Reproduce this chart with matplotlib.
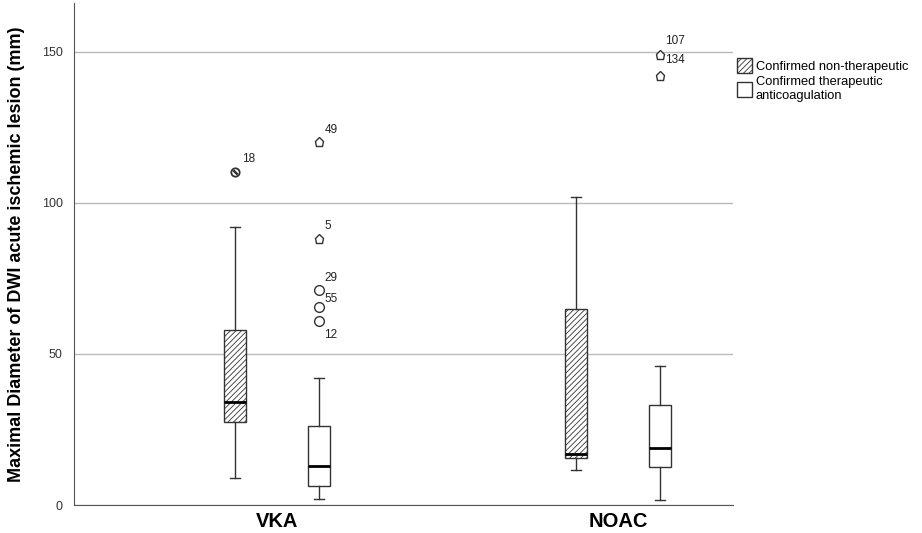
import matplotlib
matplotlib.use('Agg')
import matplotlib.pyplot as plt
from matplotlib.patches import Patch

plt.rcParams['font.family'] = ['Liberation Sans', 'DejaVu Sans']
plt.rcParams['hatch.linewidth'] = 0.6

# Values (mm)
groups = ['VKA', 'NOAC']
series = ['Confirmed non-therapeutic', 'Confirmed therapeutic\nanticoagulation']

# [VKA non-ther, VKA ther, NOAC non-ther, NOAC ther]
whislo = [9, 2, 11.5, 1.5]
q1 = [27.5, 6.3, 15.5, 12.5]
med = [34, 13, 16.8, 19]
q3 = [58, 26, 65, 33]
whishi = [92, 42, 102, 46]

# outliers: (box index, value, label, kind)  kind: 'o' outlier, 'p' extreme
outliers = [
    (0, 110, '18', 'h'),
    (1, 120, '49', 'p'),
    (1, 88, '5', 'p'),
    (1, 71, '29', 'o'),
    (1, 65.5, '55', 'o'),
    (1, 61, '12', 'o'),
    (3, 149, '107', 'p'),
    (3, 142, '134', 'p'),
]
label_offsets = {'18': (5, 10), '49': (4, 9), '5': (4, 9), '29': (4, 9),
                 '55': (4, 6), '12': (4, -10), '107': (4, 10), '134': (4, 11)}

group_pos = [1, 2]
offset = 0.123
positions = [group_pos[0] - offset, group_pos[0] + offset,
             group_pos[1] - offset, group_pos[1] + offset]

stats = []
for i in range(4):
    stats.append({'whislo': whislo[i], 'q1': q1[i], 'med': med[i],
                  'q3': q3[i], 'whishi': whishi[i], 'fliers': []})

fig = plt.figure(figsize=(9.22, 5.33), dpi=100)
ax = fig.add_axes([0.080, 0.0525, 0.715, 0.9415])

bp = ax.bxp(stats, positions=positions, widths=0.065, capwidths=0.03,
            showfliers=False, patch_artist=True,
            boxprops=dict(edgecolor='#333333', linewidth=1),
            whiskerprops=dict(color='#333333', linewidth=1),
            capprops=dict(color='#333333', linewidth=1),
            medianprops=dict(color='black', linewidth=2))
for i, box in enumerate(bp['boxes']):
    box.set_facecolor('white')
    if i % 2 == 0:
        box.set_hatch('//////')
    box.set_zorder(3)
for key in ['whiskers', 'caps', 'medians']:
    for ln in bp[key]:
        ln.set_zorder(3)

for idx, val, lab, kind in outliers:
    x = positions[idx]
    if kind == 'p':
        ax.plot(x, val, marker='p', ms=6.5, mfc='white', mec='#333333', mew=1, zorder=4)
    elif kind == 'h':
        ax.plot(x, val, marker='o', ms=6, mfc='white', mec='#333333', mew=1.3, zorder=4)
        ax.plot(x, val, marker=(2, 2, 45), ms=4, mec='#333333', mew=1.5, zorder=5)
    else:
        ax.plot(x, val, marker='o', ms=7, mfc='white', mec='#333333', mew=1, zorder=4)
    dx, dy = label_offsets[lab]
    ax.annotate(lab, (x, val), xytext=(dx, dy), textcoords='offset points',
                fontsize=8.5, color='#222222', ha='left', va='center')

ax.set_xlim(0.405, 2.337)
ax.set_ylim(0, 166)
ax.set_yticks([0, 50, 100, 150])
ax.yaxis.grid(True, color='#bbbbbb', linewidth=1)
ax.set_axisbelow(True)
ax.tick_params(axis='y', length=0, labelsize=9, labelcolor='#333333', pad=8)
ax.tick_params(axis='x', length=0, pad=5)
ax.set_xticks(group_pos)
ax.set_xticklabels(groups, fontsize=14.5, fontweight='bold')
ax.set_ylabel('Maximal Diameter of DWI acute ischemic lesion (mm)',
              fontsize=13, fontweight='bold', labelpad=12)
for s in ['top', 'right']:
    ax.spines[s].set_visible(False)
ax.spines['left'].set_color('#555555')
ax.spines['bottom'].set_color('#555555')

handles = [Patch(facecolor='white', edgecolor='#333333', hatch='//////'),
           Patch(facecolor='white', edgecolor='#333333')]
fig.legend(handles, series, loc='upper left', bbox_to_anchor=(0.788, 0.91),
           frameon=False, fontsize=9.3, handlelength=1.2, handleheight=1.4,
           handletextpad=0.25, labelspacing=0.25, borderpad=0.3)

fig.savefig('out.png', dpi=100)
